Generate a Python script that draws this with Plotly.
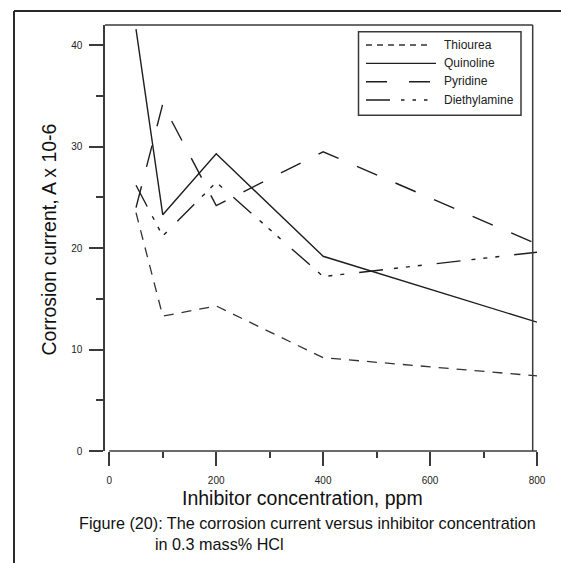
import plotly.graph_objects as go

# Inhibitor concentration (ppm) and corrosion current (A x 10-6)
conc = [50, 100, 200, 400, 800]
thiourea = [23.5, 13.3, 14.3, 9.2, 7.4]
quinoline = [41.6, 23.3, 29.3, 19.2, 12.7]
pyridine = [24.0, 34.2, 24.2, 29.5, 20.4]
diethylamine = [26.2, 21.2, 26.5, 17.2, 19.6]

series_names = ["Thiourea", "Quinoline", "Pyridine", "Diethylamine"]
x_major = [0, 200, 400, 600, 800]
x_minor = [100, 300, 500, 700]
y_major = [0, 10, 20, 30, 40]
y_minor = [5, 15, 25, 35]

X_RANGE = [-8, 800]
Y_RANGE = [0, 42]

W, H = 561, 563
L, R, T, B = 105, 24, 25, 112
PW = W - L - R
PH = H - T - B
FONT = "Arial, Liberation Sans, sans-serif"
AXIS = "#3a3a3a"
INK = "#1e1e1e"


def px(x):
    """pixel column -> paper x"""
    return (x - L) / PW


def py(y):
    """pixel row (from top) -> paper y"""
    return (H - B - y) / PH


def xdata_to_paper(v):
    return (v - X_RANGE[0]) / (X_RANGE[1] - X_RANGE[0])


styles = {
    "Thiourea": dict(dash="10px,8px", width=1.3, color="#333333"),
    "Quinoline": dict(dash="solid", width=1.4, color=INK),
    "Pyridine": dict(dash="22px,20px", width=1.4, color=INK),
    "Diethylamine": dict(dash="24px,11px,4px,8px,4px,8px,4px,15px", width=1.4, color=INK),
}
legend_dash = {
    "Thiourea": "6px,5px",
    "Quinoline": "solid",
    "Pyridine": "21px,22px",
    "Diethylamine": "24px,11px,3.5px,8px,3.5px,8px,3.5px,8px",
}

values = [thiourea, quinoline, pyridine, diethylamine]

fig = go.Figure()
for name, ys in zip(series_names, values):
    st = styles[name]
    fig.add_trace(go.Scatter(
        x=conc, y=ys, mode="lines", name=name,
        line=dict(color=st["color"], width=st["width"], dash=st["dash"]),
        showlegend=False, hoverinfo="skip",
    ))

shapes = []
# plot frame: top and right edges
right_edge = 532.7
shapes.append(dict(type="line", xref="paper", yref="paper",
                   x0=0, x1=px(right_edge), y0=1, y1=1,
                   line=dict(color=AXIS, width=1.5)))
shapes.append(dict(type="line", xref="paper", yref="paper",
                   x0=px(right_edge), x1=px(right_edge), y0=0, y1=1,
                   line=dict(color=AXIS, width=1.5)))
# offset x axis line spanning the tick range
shapes.append(dict(type="line", xref="paper", yref="paper",
                   x0=xdata_to_paper(x_major[0]), x1=xdata_to_paper(x_major[-1]),
                   y0=0, y1=0, line=dict(color=AXIS, width=1.5)))
# page border
shapes.append(dict(type="line", xref="paper", yref="paper",
                   x0=px(14), x1=px(W + 2), y0=py(11), y1=py(11),
                   line=dict(color="#2a2a2a", width=2)))
shapes.append(dict(type="line", xref="paper", yref="paper",
                   x0=px(14), x1=px(14), y0=py(11), y1=py(H + 2),
                   line=dict(color="#2a2a2a", width=2)))

# legend box
shapes.append(dict(type="rect", xref="paper", yref="paper",
                   x0=px(358.5), x1=px(521), y0=py(31.8), y1=py(115.3),
                   line=dict(color=AXIS, width=1.5), fillcolor="white"))

annotations = []
leg_rows = [45.0, 63.4, 81.7, 100.0]
for name, row in zip(series_names, leg_rows):
    st = styles[name]
    x_end = 436 if name == "Quinoline" else 430
    shapes.append(dict(type="line", xref="paper", yref="paper",
                       x0=px(366), x1=px(x_end), y0=py(row), y1=py(row),
                       line=dict(color=st["color"], width=st["width"],
                                 dash=legend_dash[name])))
    annotations.append(dict(x=px(441.5), y=py(row - 0.3), xref="paper", yref="paper",
                            text=name, showarrow=False, xanchor="left", yanchor="middle",
                            font=dict(family=FONT, size=12, color="#222")))

annotations.append(dict(x=px(48), y=py(239.5), xref="paper", yref="paper",
                        text="Corrosion current, A x 10-6", textangle=-90, showarrow=False,
                        xanchor="center", yanchor="middle",
                        font=dict(family=FONT, size=19.5, color="#111")))
annotations.append(dict(x=px(302), y=py(498), xref="paper", yref="paper",
                        text="Inhibitor concentration, ppm", showarrow=False,
                        xanchor="center", yanchor="middle",
                        font=dict(family=FONT, size=19.5, color="#111")))
annotations.append(dict(x=px(76.5), y=py(523), xref="paper", yref="paper",
                        text="Figure (20): The corrosion current versus inhibitor concentration",
                        showarrow=False, xanchor="left", yanchor="middle",
                        font=dict(family=FONT, size=16.2, color="#111")))
annotations.append(dict(x=px(153), y=py(544), xref="paper", yref="paper",
                        text="in 0.3 mass% HCl", showarrow=False, xanchor="left", yanchor="middle",
                        font=dict(family=FONT, size=16.2, color="#111")))

fig.update_layout(
    width=W, height=H,
    margin=dict(l=L, r=R, t=T, b=B, pad=0),
    paper_bgcolor="white", plot_bgcolor="white",
    showlegend=False,
    shapes=shapes, annotations=annotations,
    xaxis=dict(
        range=X_RANGE, showline=False, showgrid=False, zeroline=False,
        tickmode="array", tickvals=x_major, ticktext=[str(v) for v in x_major],
        ticks="outside", ticklen=14, tickwidth=1.5, tickcolor=AXIS,
        tickfont=dict(family=FONT, size=10, color="#222"),
        ticklabelstandoff=6,
        minor=dict(tickvals=x_minor, ticks="outside", ticklen=6, tickwidth=1.5, tickcolor=AXIS),
        fixedrange=True,
    ),
    yaxis=dict(
        range=Y_RANGE, showline=True, linecolor=AXIS, linewidth=1.5,
        showgrid=False, zeroline=False,
        tickmode="array", tickvals=y_major, ticktext=[str(v) for v in y_major],
        ticks="outside", ticklen=14, tickwidth=1.5, tickcolor=AXIS,
        tickfont=dict(family=FONT, size=10, color="#222"),
        ticklabelstandoff=5,
        minor=dict(tickvals=y_minor, ticks="outside", ticklen=7, tickwidth=1.5, tickcolor=AXIS),
        fixedrange=True,
    ),
)

fig.write_html("out.html")
